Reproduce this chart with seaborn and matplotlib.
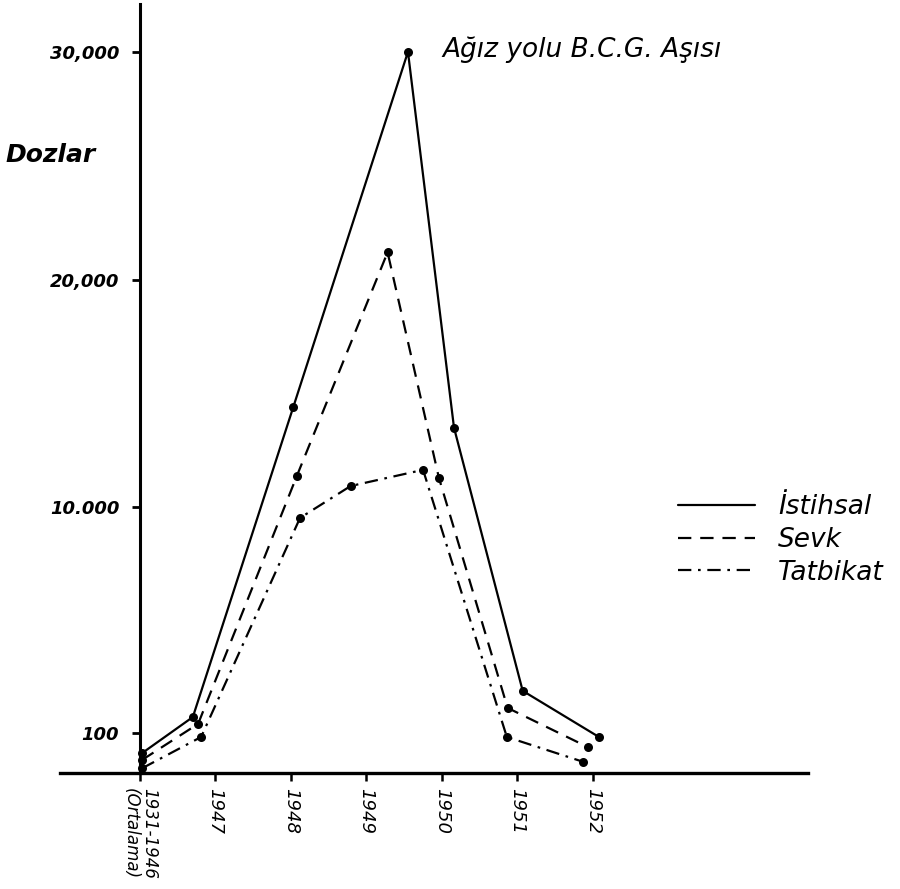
import numpy as np
import pandas as pd
import matplotlib
matplotlib.use("Agg")
import matplotlib.pyplot as plt
from matplotlib.lines import Line2D
import seaborn as sns

# Veriler (grafikten okunan yaklaşık değerler)
year_labels = ["1931-1946\n(Ortalama)", "1947", "1948", "1949", "1950", "1951", "1952"]
year_pos = [0, 1, 2, 3, 4, 5, 6]

istihsal_x = [0.03, 0.70, 2.03, 3.55, 4.16, 5.07, 6.08]
istihsal_y = [50, 800, 14400, 30000, 13500, 1950, 90]

sevk_x = [0.03, 0.77, 2.08, 3.28, 3.96, 4.87, 5.93]
sevk_y = [33, 500, 11400, 21200, 11300, 1200, 65]

tatbikat_x = [0.03, 0.81, 2.12, 2.79, 3.75, 4.86, 5.87]
tatbikat_y = [12, 90, 9540, 10940, 11650, 90, 28]

series_names = ["İstihsal", "Sevk", "Tatbikat"]
y_ticks = [100, 10000, 20000, 30000]
y_ticklabels = ["100", "10.000", "20,000", "30,000"]

df = pd.concat([
    pd.DataFrame({"x": istihsal_x, "y": istihsal_y, "seri": series_names[0]}),
    pd.DataFrame({"x": sevk_x, "y": sevk_y, "seri": series_names[1]}),
    pd.DataFrame({"x": tatbikat_x, "y": tatbikat_y, "seri": series_names[2]}),
])

sns.set_theme(style="ticks")
plt.rcParams["font.family"] = ["DejaVu Sans"]
plt.rcParams["text.color"] = "black"

# 100'ün altı sıkıştırılmış eksen (elle çizilmiş grafikteki gibi)
k = 17.57
def fwd(v):
    v = np.asarray(v, dtype=float)
    return np.where(v >= 100, v, 100 - (100 - v) * k)

def inv(u):
    u = np.asarray(u, dtype=float)
    return np.where(u >= 100, u, 100 - (100 - u) / k)

fig = plt.figure(figsize=(9, 8.89), dpi=100)
ax = fig.add_axes([60 / 900, 1 - 773 / 889, (808 - 60) / 900, (773 - 4) / 889])

dash_styles = {
    "İstihsal": "",
    "Sevk": (6, 4),
    "Tatbikat": (6, 3, 1.2, 3),
}
lw = 1.6
for name in series_names:
    sub = df[df["seri"] == name]
    sns.lineplot(data=sub, x="x", y="y", ax=ax, color="black", linewidth=lw,
                 marker="o", markersize=6.5, markeredgewidth=0,
                 estimator=None, sort=False, legend=False)
    line = ax.lines[-1]
    if dash_styles[name]:
        line.set_dashes(dash_styles[name])
    line.set_clip_on(False)

ax.set_yscale("function", functions=(fwd, inv))
ax.set_ylim(0, 32100)
ax.set_xlim(-1.06, 8.85)

ax.spines["top"].set_visible(False)
ax.spines["right"].set_visible(False)
ax.spines["left"].set_position(("data", 0))
ax.spines["left"].set_linewidth(2.2)
ax.spines["bottom"].set_linewidth(2.4)
ax.spines["left"].set_color("black")
ax.spines["bottom"].set_color("black")

ax.set_yticks(y_ticks)
ax.set_yticklabels(y_ticklabels, fontsize=13, style="italic", fontweight="bold")
ax.yaxis.set_minor_locator(matplotlib.ticker.NullLocator())
ax.tick_params(axis="y", direction="out", length=6, width=2, pad=9, colors="black")

ax.set_xticks(year_pos)
ax.set_xticklabels(year_labels, rotation=270, fontsize=13, style="italic",
                   va="top", ha="center", linespacing=1.0)
ax.get_xticklabels()[0].set_fontsize(12)
ax.tick_params(axis="x", direction="out", length=6, width=1.8, pad=5, colors="black")

ax.set_xlabel("")
ax.set_ylabel("")
ax.grid(False)

fig.text(5 / 900, 1 - 155 / 889, "Dozlar", fontsize=18, style="italic",
         fontweight="bold", va="center", ha="left")
fig.text(442 / 900, 1 - 50 / 889, "Ağız yolu B.C.G. Aşısı", fontsize=19,
         style="italic", va="center", ha="left")

handles = [
    Line2D([], [], color="black", linewidth=lw),
    Line2D([], [], color="black", linewidth=lw, dashes=dash_styles["Sevk"]),
    Line2D([], [], color="black", linewidth=lw, dashes=dash_styles["Tatbikat"]),
]
fig.legend(handles, series_names, loc="center left", bbox_to_anchor=(678 / 900, 1 - 540 / 889),
           frameon=False, prop={"style": "italic", "size": 19},
           handlelength=2.9, handletextpad=0.9, labelspacing=0.25,
           borderpad=0, borderaxespad=0)

fig.savefig("out.png", dpi=100, facecolor="white")
